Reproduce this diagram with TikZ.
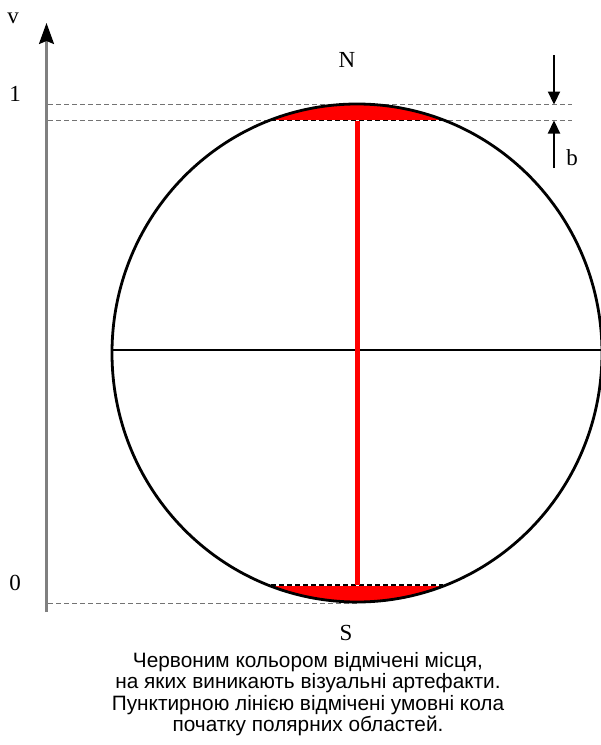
\documentclass[tikz,border=0pt]{standalone}
\usepackage{fontspec}
\setmainfont{Liberation Serif}
\newfontfamily\capfont{Liberation Sans}
\usetikzlibrary{arrows.meta}
\begin{document}
\begin{tikzpicture}[x=1pt,y=-1pt,
  guide/.style={draw=black!55,line width=1pt,dash pattern=on 5pt off 3pt},
  chord/.style={draw=black,line width=1.8pt,dash pattern=on 5pt off 3pt},
  lbl/.style={font=\fontsize{23}{27}\selectfont,inner sep=0pt},
  note/.style={font=\capfont\fontsize{20.8}{24}\selectfont,inner sep=0pt,anchor=base},
  btip/.style={-{Triangle[length=13pt,width=12pt]}}]
\useasboundingbox (0,0) rectangle (601,745);
% red polar caps
\begin{scope}
  \clip (357,353) ellipse [x radius=245, y radius=249];
  \fill[red] (100,95) rectangle (620,120.5);
  \fill[red] (100,585) rectangle (620,615);
\end{scope}
% guide dashed lines
\draw[guide] (48,104.5) -- (572,104.5);
\draw[guide] (48,120.5) -- (572,120.5);
\draw[guide] (48,603) -- (357,603);
% chords
\draw[white,line width=1.8pt] (271,120.5) -- (443,120.5);
\draw[chord] (271,120.5) -- (443,120.5);
\draw[white,line width=1.8pt] (271,585) -- (443,585);
\draw[chord] (271,585) -- (443,585);
% equator
\coordinate (eqL) at (112,350);
\coordinate (eqR) at (605,350);
\draw[black,line width=2.8pt] (eqL) -- (eqR);
% meridian
\coordinate (mN) at (357.5,120.5);
\coordinate (mS) at (357.5,585);
\draw[red,line width=5.5pt] (mN) -- (mS);
% circle
\draw[black,line width=2.8pt] (357,353) ellipse [x radius=245, y radius=249];
% axis
\coordinate (ax0) at (46.5,612);
\coordinate (ax1) at (46.5,23);
\draw[black!50,line width=2.2pt,-{Stealth[length=21pt,width=15pt,inset=3pt,black]}] (ax0) -- (ax1);
% b marker
\coordinate (bT) at (554,55);
\coordinate (bTt) at (554,104.5);
\coordinate (bB) at (554,168);
\coordinate (bBt) at (554,120.5);
\draw[black,line width=2.2pt,btip] (bT) -- (bTt);
\draw[black,line width=2.2pt,btip] (bB) -- (bBt);
% labels
\node[lbl] (v) at (13,18) {v};
\node[lbl] (one) at (15,94) {1};
\node[lbl] (zero) at (15,583) {0};
\node[lbl] (N) at (347,60) {N};
\node[lbl] (S) at (346,633) {S};
\node[lbl] (b) at (572,158) {b};
\node[note] (cap1) at (308,667) {Червоним кольором відмічені місця,};
\node[note] (cap2) at (308,688.5) {на яких виникають візуальні артефакти.};
\node[note] (cap3) at (308,710) {Пунктирною лінією відмічені умовні кола};
\node[note] (cap4) at (308,731.5) {початку полярних областей.};
\end{tikzpicture}
\end{document}
